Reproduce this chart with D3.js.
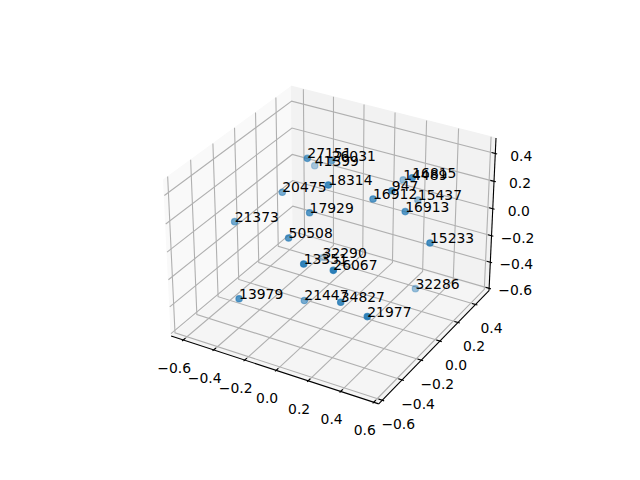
<!DOCTYPE html>
<html><head><meta charset="utf-8"><script src="https://cdn.jsdelivr.net/npm/d3@7"></script>
<style>html,body{margin:0;background:#fff}svg{display:block}</style></head><body><div id="c"></div>
<script>
const xLim=[-0.68,0.63], yLim=[-0.635,0.557], zLim=[-0.618,0.51];
const xTicks=[-0.6,-0.4,-0.2,0,0.2,0.4,0.6], yTicks=[-0.6,-0.4,-0.2,0,0.2,0.4], zTicks=[-0.6,-0.4,-0.2,0,0.2,0.4];
const names=["27151","41399","26031","20475","18314","17929","21373","50508","13351","32290","26067","13979","21447","34827","21977","32286","15233","16913","15437","16912","947","14489","16815"];
const xs=[-0.166,-0.471,-0.137,-0.367,0.099,-0.060,-0.516,-0.124,0.164,-0.370,0.333,-0.235,-0.111,0.310,0.517,0.271,0.600,0.384,0.196,0.217,0.328,0.082,0.425];
const ys=[-0.069,0.471,0.124,-0.012,-0.279,-0.213,-0.251,-0.318,-0.613,0.393,-0.600,-0.621,-0.193,-0.493,-0.570,0.353,-0.087,0.024,0.489,-0.028,-0.023,0.519,0.019];
const zs=[0.485,0.028,0.367,0.148,0.504,0.220,0.032,0.085,0.188,-0.598,0.194,-0.191,-0.449,-0.109,-0.083,-0.592,0.144,0.226,-0.032,0.293,0.383,0.063,0.479];
const W=640,H=480;
const svg=d3.select('#c').append('svg').attr('width',W).attr('height',H);
const k=1.8294640721620434*25/24/Math.hypot(4,4,3);const box=[4*k,4*k,3*k];
const wx=d3.scaleLinear().domain(xLim).range([0,box[0]]),wy=d3.scaleLinear().domain(yLim).range([0,box[1]]),wz=d3.scaleLinear().domain(zLim).range([0,box[2]]);
const dist=10,el=30*Math.PI/180,az=-60*Math.PI/180;
const dir=[Math.cos(el)*Math.cos(az),Math.cos(el)*Math.sin(az),Math.sin(el)];
const R=box.map(b=>b/2),eye=R.map((r,i)=>r+dist*dir[i]);
const cross=(a,b)=>[a[1]*b[2]-a[2]*b[1],a[2]*b[0]-a[0]*b[2],a[0]*b[1]-a[1]*b[0]];
const dot=(a,b)=>a[0]*b[0]+a[1]*b[1]+a[2]*b[2];
const nrm=a=>{const n=Math.hypot(...a);return a.map(v=>v/n)};
const w=nrm(dir),u=nrm(cross([0,0,1],w)),v=cross(w,u);
const px=d3.scaleLinear().domain([-0.095,0.09]).range([143.2,512.8]);
const py=d3.scaleLinear().domain([-0.095,0.09]).range([427.2,57.6]);
function proj(x,y,z){const p=[wx(x)-eye[0],wy(y)-eye[1],wz(z)-eye[2]];const d=-dot(w,p);return [px(dot(u,p)/d),py(dot(v,p)/d),d];}
const [x0,x1]=xLim,[y0,y1]=yLim,[z0,z1]=zLim;
const poly=(pts,f)=>svg.append('polygon').attr('points',pts.map(p=>proj(...p).slice(0,2).join(',')).join(' ')).attr('fill',f).attr('stroke',f);
poly([[x0,y0,z0],[x0,y1,z0],[x0,y1,z1],[x0,y0,z1]],'#f9f9f9');
poly([[x0,y1,z0],[x1,y1,z0],[x1,y1,z1],[x0,y1,z1]],'#f2f2f2');
poly([[x0,y0,z0],[x1,y0,z0],[x1,y1,z0],[x0,y1,z0]],'#f5f5f5');
const pl=(pts,c,sw)=>svg.append('polyline').attr('points',pts.map(p=>proj(...p).slice(0,2).join(',')).join(' ')).attr('fill','none').attr('stroke',c).attr('stroke-width',sw);
xTicks.forEach(t=>pl([[t,y0,z0],[t,y1,z0],[t,y1,z1]],'#b0b0b0',1.1));
yTicks.forEach(t=>pl([[x1,t,z0],[x0,t,z0],[x0,t,z1]],'#b0b0b0',1.1));
zTicks.forEach(t=>pl([[x0,y0,t],[x0,y1,t],[x1,y1,t]],'#b0b0b0',1.1));
pl([[x0,y0,z0],[x1,y0,z0]],'#000',1.1);pl([[x1,y0,z0],[x1,y1,z0]],'#000',1.1);pl([[x1,y1,z0],[x1,y1,z1]],'#000',1.1);
const dx=(x1-x0)/12*1.04,dy=(y1-y0)/12*1.04;
const lab=(p,off,t)=>svg.append('text').attr('x',p[0]+off[0]).attr('y',p[1]+off[1]).attr('text-anchor','middle').attr('dominant-baseline','central').attr('font-family','DejaVu Sans').attr('font-size',13.9).text(d3.format('.1f')(t).replace('-','\u2212'));
xTicks.forEach(t=>{pl([[t,y0-.1*dy,z0],[t,y0+.2*dy,z0]],'#000',1.1);lab(proj(t,y0,z0),[-9,28],t)});
yTicks.forEach(t=>{pl([[x1+.1*dx,t,z0],[x1-.2*dx,t,z0]],'#000',1.1);lab(proj(x1,t,z0),[16,24],t)});
zTicks.forEach(t=>{pl([[x1+.1*dx,y1,t],[x1-.2*dx,y1,t]],'#000',1.1);lab(proj(x1,y1,t),[26,2],t)});
const pts=names.map((n,i)=>{const p=proj(xs[i],ys[i],zs[i]);return {n,sx:p[0],sy:p[1],d:p[2]}});
const alpha=d3.scaleLinear().domain(d3.extent(pts,d=>d.d)).range([0.95,0.3]);
svg.append('g').selectAll('circle').data(pts.slice().sort((a,b)=>b.d-a.d)).join('circle')
 .attr('cx',d=>d.sx).attr('cy',d=>d.sy).attr('r',3.2).attr('fill','#1f77b4').attr('fill-opacity',d=>alpha(d.d))
 .attr('stroke','#1f77b4').attr('stroke-opacity',d=>alpha(d.d)*.8).attr('stroke-width',1.2);
svg.append('g').selectAll('text').data(pts).join('text').attr('x',d=>d.sx).attr('y',d=>d.sy)
 .attr('font-family','DejaVu Sans').attr('font-size',13.9).attr('fill','#000').text(d=>d.n);
</script></body></html>
